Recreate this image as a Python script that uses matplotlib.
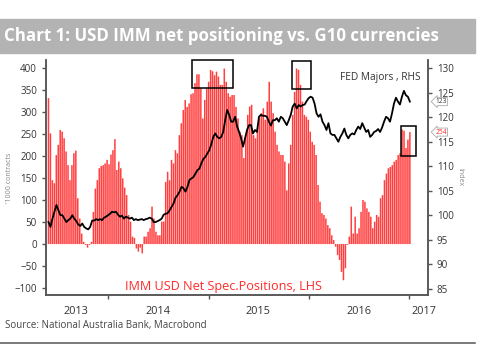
import matplotlib
matplotlib.use("Agg")
import matplotlib.pyplot as plt
import matplotlib.transforms as mtransforms
from matplotlib.patches import Rectangle
import pandas as pd

plt.rcParams['font.family'] = ['Open Sans', 'DejaVu Sans']

# IMM USD net speculative positions ('000 contracts), weekly, LHS
imm = [331, 251, 145, 138, 202, 225, 259, 255, 240, 210, 179, 145, 179, 206, 212, 104,
       58, 24, 5, -2, -8, -2, 5, 73, 126, 145, 172, 177, 179, 183, 191, 181, 203, 213,
       238, 168, 187, 172, 149, 128, 111, 66, 51, 17, 14, -10, -17, -8, -21, 17, 17, 28,
       36, 85, 58, 28, 20, 20, 51, 51, 141, 164, 145, 191, 183, 213, 206, 247, 274, 304,
       327, 311, 319, 340, 342, 365, 385, 385, 353, 285, 327, 353, 368, 395, 392, 383,
       391, 380, 361, 361, 398, 368, 342, 334, 338, 338, 311, 285, 255, 247, 195, 247,
       293, 312, 316, 247, 240, 263, 285, 297, 308, 282, 323, 368, 323, 297, 255, 225,
       210, 202, 202, 187, 122, 183, 225, 293, 345, 398, 395, 361, 323, 293, 289, 282,
       255, 232, 225, 202, 134, 96, 70, 66, 58, 43, 36, 20, 9, -6, -25, -36, -63, -82,
       -55, -2, 17, 85, 24, 62, 24, 36, 73, 100, 96, 81, 73, 62, 36, 51, 66, 62, 104,
       111, 145, 160, 172, 175, 179, 187, 191, 202, 206, 260, 257, 218, 237, 254]

# FED Majors index, RHS
fed = [98.6, 97.6, 99.3, 100.7, 102.1, 101, 100, 100, 99.3, 98.6, 99, 99.3, 100, 99.3,
       98.8, 98.1, 97.8, 98.3, 97.6, 97.3, 97.1, 97.6, 98.9, 98.9, 99.2, 99, 99.2, 99,
       99.5, 99.7, 100, 100.3, 100.7, 100.6, 100.7, 100.1, 99.7, 99.9, 99.3, 99.7, 99.5,
       99.3, 99.5, 99, 99.2, 99, 99.1, 99.2, 99, 99.2, 99.3, 99.5, 99.3, 98.6, 98.6, 98.8,
       99, 99.3, 100.1, 100.3, 100.4, 101, 101.7, 102.4, 103.6, 104.1, 104.8, 105.8,
       105.5, 104.8, 105.8, 107.2, 107.5, 107.8, 108.5, 109.2, 109.5, 110.6, 111.5,
       111.9, 112.6, 113.3, 114.5, 116, 116.7, 116, 115.7, 116, 117, 119.4, 121.5, 120.5,
       119.1, 119.1, 120.1, 118.1, 117, 115.7, 114, 115.7, 117.4,
       118.4, 118.4, 116.7, 117.4, 117, 120.1, 120.5, 120.3, 120.3, 120.1, 119.1, 118.3,
       119.4, 119.4, 119.8, 119.1, 120.1, 119.8, 119.1, 118.4, 119.4, 120.5, 122.2, 122.8,
       121.8, 122.5, 122.2, 122.5, 122.6, 123.3, 123.9, 124.2, 124, 122.8, 120.8, 120.1,
       120.6, 119.1, 118.4, 117.4, 118.8, 116.7, 116.4, 116.4, 115.7, 115, 116, 116.7,
       117.7, 116.4, 115.7, 116.4, 116.7, 116.5, 117.4, 118.1, 117.6, 118.8, 117.9, 117,
       117.4, 116, 116.4, 117, 117.2, 117.6, 117, 117.9, 119.1, 120.1, 119.8, 119.1,
       120.8, 122.8, 124, 123.2, 122.6, 124.2, 125.4, 124.5, 124.2, 123.2]

start, end = "2013-05-28", "2017-01-03"
imm_dates = pd.date_range(start, end, periods=len(imm))
fed_dates = pd.date_range(start, end, periods=len(fed))

years = ["2013", "2014", "2015", "2016", "2017"]
year_label_pos = pd.to_datetime(["2013-09-05", "2014-07-01", "2015-07-01",
                                 "2016-07-01", "2017-02-24"])
year_ticks = pd.to_datetime(["2014-01-01", "2015-01-01", "2016-01-01", "2017-01-01"])

# highlighted periods: (x0, x1, y0, y1) on the LHS scale
boxes = [("2014-11-01", "2015-03-30", 355, 417),
         ("2015-11-01", "2016-01-10", 352, 416),
         ("2016-12-02", "2017-01-25", 200, 268)]

red = "#ff4040"
grey = "#555555"

fig = plt.figure(figsize=(4.9, 3.55), dpi=100)
ax = fig.add_axes([0.0939, 0.169, 0.779, 0.662])
ax2 = ax.twinx()

ax.bar(imm_dates, imm, width=5.6, color=red, linewidth=0, zorder=1, snap=False)
ax2.plot(fed_dates, fed, color="black", lw=1.3, zorder=3)
ax.set_zorder(ax2.get_zorder() - 1)
ax2.patch.set_visible(False)
ax.patch.set_visible(False)

for x0, x1, y0, y1 in boxes:
    d0, d1 = pd.Timestamp(x0), pd.Timestamp(x1)
    ax.add_patch(Rectangle((d0, y0), d1 - d0, y1 - y0, fill=False,
                           edgecolor="black", lw=1.1, zorder=4, clip_on=False))

ax.set_xlim(pd.Timestamp("2013-05-19"), pd.Timestamp("2017-03-09"))
ax.set_ylim(-115.5, 417.5)
ax2.set_ylim(83.7, 131.7)
ax.set_yticks(range(-100, 401, 50))
ax2.set_yticks(range(85, 131, 5))

ax.set_xticks(year_ticks)
ax.set_xticklabels([])
ax.tick_params(axis="x", length=3, color=grey, width=1)
# year labels centred in each year
tr = mtransforms.blended_transform_factory(ax.transData, ax.transAxes)
for lab, pos in zip(years, year_label_pos):
    ax.text(pos, -0.045, lab, transform=tr, ha="center", va="top",
            fontsize=7.8, color="#333333")

for a in (ax, ax2):
    for s in a.spines.values():
        s.set_color(grey)
        s.set_linewidth(1.1)
    a.spines["top"].set_visible(False)
    a.tick_params(axis="y", labelsize=7, colors="#333333", length=3, width=1)
    a.tick_params(axis="y", color=grey)

ax.set_ylabel("'1000 contracts", fontsize=5, color="#888888", labelpad=1)
ax2.set_ylabel("Index", fontsize=5, color="#888888", rotation=270, labelpad=7)

ax.text(0.465, 0.035, "IMM USD Net Spec.Positions, LHS", transform=ax.transAxes,
        ha="center", va="center", fontsize=9.1, color="#ff2a2a")
ax.text(0.982, 0.925, "FED Majors , RHS", transform=ax.transAxes,
        ha="right", va="center", fontsize=7.3, color="#333333")

# end-value tags on the right spine
tr_l = mtransforms.blended_transform_factory(ax.transAxes, ax.transData)
tr_r = mtransforms.blended_transform_factory(ax2.transAxes, ax2.transData)
ax2.text(1.02, fed[-1], f"{fed[-1]:.0f}", transform=tr_r, ha="left", va="center",
         fontsize=4.8, color="#333333", zorder=10,
         bbox=dict(boxstyle="larrow,pad=0.08", fc="white", ec="#aaaaaa", lw=0.6))
ax.text(1.02, imm[-1], f"{imm[-1]}", transform=tr_l, ha="left", va="center",
        fontsize=4.8, color="#ff2a2a", zorder=10,
        bbox=dict(boxstyle="larrow,pad=0.08", fc="white", ec="#aaaaaa", lw=0.6))

# title bar, source and rule
fig.patches.append(Rectangle((0, 0.8515), 0.969, 0.095, transform=fig.transFigure,
                             color="#b3b3b3", zorder=0))
fig.text(0.008, 0.899, "Chart 1: USD IMM net positioning vs. G10 currencies",
         fontsize=12.2, fontweight="bold", color="white", va="center", ha="left")
fig.text(0.01, 0.0845, "Source: National Australia Bank, Macrobond", fontsize=7.0,
         color="#444444", va="center")
fig.add_artist(plt.Line2D([0, 0.969], [0.034, 0.034], color="#555555", lw=1.1,
                          transform=fig.transFigure))

fig.savefig("out.png", dpi=100)
